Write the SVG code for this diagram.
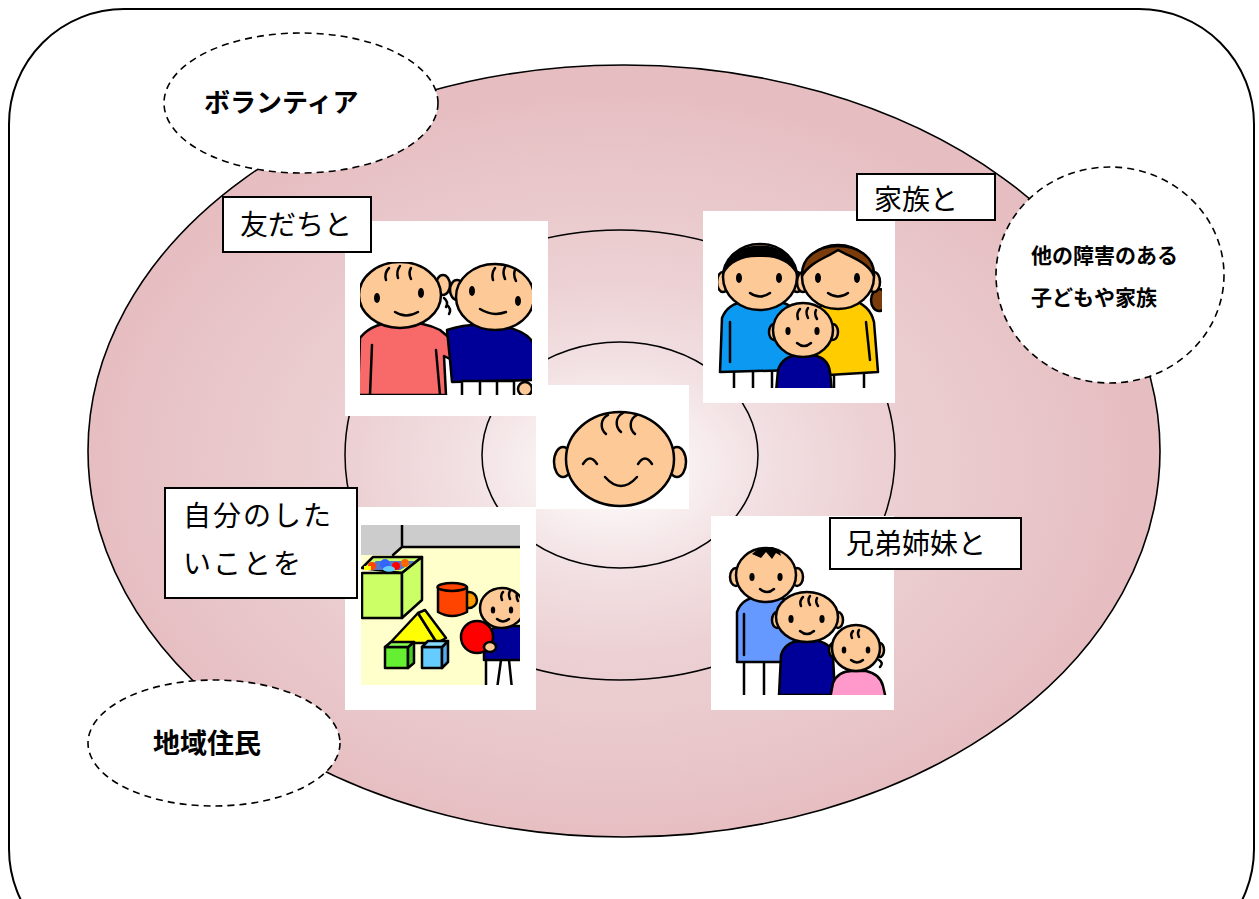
<svg xmlns="http://www.w3.org/2000/svg" width="1259" height="899" viewBox="0 0 1259 899">
  <defs>
    <radialGradient id="glow" cx="0.49" cy="0.52" r="0.5">
      <stop offset="0" stop-color="#ffffff"/>
      <stop offset="0.1" stop-color="#fbf5f5"/>
      <stop offset="0.28" stop-color="#f2e0e2"/>
      <stop offset="0.5" stop-color="#ecd0d3"/>
      <stop offset="0.8" stop-color="#e8c5c8"/>
      <stop offset="1" stop-color="#e6bdc1"/>
    </radialGradient>
    <clipPath id="clipFriends"><rect x="360" y="262" width="172" height="133"/></clipPath>
    <clipPath id="clipFamily"><rect x="718" y="238" width="164" height="150"/></clipPath>
    <clipPath id="clipToys"><rect x="361" y="525" width="159" height="160"/></clipPath>
    <clipPath id="clipSiblings"><rect x="725" y="545" width="162" height="150"/></clipPath>
    <style>
      .frame { fill: none; stroke: #000; stroke-width: 2; }
      .ring { fill: none; stroke: #000; stroke-width: 1.5; }
      .cloud { fill: #fff; stroke: #000; stroke-width: 1.6; stroke-dasharray: 7 5; }
      .photo { fill: #fff; }
      .label { fill: #fff; stroke: #000; stroke-width: 2; }
      .txt { font-family: "Noto Sans CJK JP", "Noto Sans", sans-serif; font-size: 28px; font-weight: 400; fill: #000; }
      .bold { font-family: "Noto Sans CJK JP", "Noto Sans", sans-serif; font-weight: 700; fill: #000; }
      .o { stroke: #000; stroke-width: 2.5; stroke-linejoin: round; stroke-linecap: round; }
      .ln { fill: none; stroke: #000; stroke-width: 2.5; stroke-linecap: round; }
      .skin { fill: #fdc996; }
      .navy { fill: #000099; }
      .wh { fill: #fff; }
    </style>
  </defs>

  <!-- outer rounded frame -->
  <rect class="frame" x="9" y="9" width="1245" height="955" rx="115" ry="115" fill="#fff"/>

  <!-- community ellipse with radial shading -->
  <ellipse id="community" cx="624" cy="451" rx="536" ry="386" fill="url(#glow)" stroke="#000" stroke-width="1.6"/>

  <!-- inner rings -->
  <g id="rings">
    <ellipse class="ring" cx="620" cy="455" rx="275" ry="225"/>
    <ellipse class="ring" cx="620" cy="455" rx="138" ry="113"/>
  </g>

  <!-- dashed outer circles -->
  <g id="volunteer">
    <ellipse class="cloud" cx="301" cy="103" rx="137" ry="70"/>
    <text class="bold" x="204" y="112" font-size="26">ボランティア</text>
  </g>
  <g id="other-families">
    <ellipse class="cloud" cx="1110" cy="275" rx="114" ry="108"/>
    <text class="bold" x="1031" y="263" font-size="21">他の障害のある</text>
    <text class="bold" x="1031" y="305" font-size="21">子どもや家族</text>
  </g>
  <g id="residents">
    <ellipse class="cloud" cx="214" cy="743" rx="126" ry="63"/>
    <text class="bold" x="153" y="753" font-size="27">地域住民</text>
  </g>

  <!-- friends -->
  <g id="friends">
    <rect class="photo" x="345" y="221" width="203" height="195"/>
    <g clip-path="url(#clipFriends)">
      <!-- girl -->
      <path d="M358 395 L360 338 Q372 322 400 322 Q425 322 440 330 L458 345 L452 360 L444 356 L446 395 Z" fill="#f86a6a" class="o"/>
      <path class="ln" d="M372 345 L370 395 M436 350 L440 395"/>
      <ellipse cx="443" cy="285" rx="7" ry="10" class="skin o"/>
      <ellipse cx="400" cy="295" rx="41" ry="33" class="skin o"/>
      <path class="ln" d="M444 298 q5 4 2 9 M447 305 q5 4 2 9" stroke-width="2"/>
      <path class="ln" d="M389 268 q-5 5 -3 12 M400 266 q-4 5 -2 12 M411 268 q-3 5 0 11"/>
      <ellipse cx="377" cy="298" rx="3" ry="5"/>
      <ellipse cx="421" cy="293" rx="3" ry="5"/>
      <path class="ln" d="M395 312 q11 7 23 0"/>
      <!-- boy -->
      <path d="M447 330 Q470 322 500 326 Q528 330 534 345 L534 380 L452 382 L450 360 Z" class="navy o"/>
      <rect x="462" y="381" width="52" height="16" class="wh o"/>
      <path class="ln" d="M480 382 L480 397 M497 382 L497 397"/>
      <ellipse cx="525" cy="389" rx="7" ry="7" class="skin o"/>
      <ellipse cx="457" cy="290" rx="7" ry="10" class="skin o"/>
      <ellipse cx="495" cy="297" rx="39" ry="33" class="skin o"/>
      <path class="ln" d="M495 268 q-4 5 -2 12 M505 267 q-3 5 0 12 M515 270 q-2 5 1 11"/>
      <ellipse cx="472" cy="291" rx="3" ry="5"/>
      <ellipse cx="518" cy="301" rx="3" ry="5"/>
      <path class="ln" d="M480 309 q13 8 26 3"/>
    </g>
  </g>

  <!-- family -->
  <g id="family">
    <rect class="photo" x="703" y="211" width="192" height="192"/>
    <g clip-path="url(#clipFamily)">
      <!-- father -->
      <rect x="734" y="366" width="38" height="26" class="wh o"/>
      <path class="ln" d="M753 368 L753 392"/>
      <path d="M720 372 L722 318 Q728 303 745 302 L780 302 Q796 305 797 322 L797 370 Z" fill="#0c99f2" class="o"/>
      <path class="ln" d="M730 322 L730 362"/>
      <ellipse cx="723" cy="282" rx="6" ry="10" class="skin o"/>
      <ellipse cx="797" cy="282" rx="6" ry="10" class="skin o"/>
      <ellipse cx="760" cy="277" rx="37" ry="33" class="skin o"/>
      <path d="M724 274 C722 236 798 236 796 274 C790 262 776 256 760 257 C744 256 730 262 724 274 Z" fill="#000"/>
      <ellipse cx="739" cy="278" rx="3" ry="5"/>
      <ellipse cx="779" cy="278" rx="3" ry="5"/>
      <path class="ln" d="M750 293 q10 7 20 0"/>
      <!-- mother -->
      <rect x="834" y="370" width="30" height="22" class="wh o"/>
      <ellipse cx="879" cy="300" rx="8" ry="11" fill="#7a3c0a" class="o"/>
      <path d="M812 376 L812 320 Q818 302 836 300 L852 300 Q870 305 874 322 L878 372 Z" fill="#ffcc00" class="o"/>
      <path class="ln" d="M866 322 L870 360"/>
      <ellipse cx="803" cy="282" rx="6" ry="10" class="skin o"/>
      <ellipse cx="874" cy="282" rx="6" ry="10" class="skin o"/>
      <ellipse cx="838" cy="277" rx="36" ry="32" class="skin o"/>
      <path d="M802 276 C800 236 876 236 874 276 C868 262 852 258 838 250 C826 258 810 262 802 276 Z" fill="#7a3c0a" class="o" stroke-width="2"/>
      <ellipse cx="818" cy="278" rx="3" ry="5"/>
      <ellipse cx="857" cy="278" rx="3" ry="5"/>
      <path class="ln" d="M828 293 q10 7 20 0"/>
      <!-- child -->
      <path d="M776 392 L778 370 Q783 355 800 355 L812 355 Q828 357 830 372 L832 392 Z" class="navy o"/>
      <ellipse cx="774" cy="332" rx="5" ry="8" class="skin o"/>
      <ellipse cx="833" cy="332" rx="5" ry="8" class="skin o"/>
      <ellipse cx="803" cy="330" rx="30" ry="27" class="skin o"/>
      <path class="ln" d="M800 309 q-4 4 -2 10 M808 308 q-3 4 0 10 M816 310 q-2 4 1 9" stroke-width="2"/>
      <ellipse cx="788" cy="331" rx="2.6" ry="4"/>
      <ellipse cx="817" cy="331" rx="2.6" ry="4"/>
      <path class="ln" d="M797 343 q7 6 14 0"/>
    </g>
  </g>

  <!-- centre child -->
  <g id="me">
    <rect class="photo" x="536" y="385" width="153" height="124"/>
    <ellipse cx="563" cy="462" rx="9" ry="15" class="skin o"/>
    <ellipse cx="677" cy="462" rx="9" ry="15" class="skin o"/>
    <ellipse cx="620" cy="459" rx="54" ry="47" class="skin o"/>
    <path class="ln" d="M608 415 c-8 4 -8 14 -2 19 M623 413 c-8 4 -8 14 -2 19 M637 415 c-8 4 -8 14 -2 19"/>
    <path class="ln" d="M583 464 q7 -11 14 0 M638 464 q7 -11 14 0"/>
    <path class="ln" d="M605 477 q16 18 32 0"/>
  </g>

  <!-- play -->
  <g id="play">
    <rect class="photo" x="345" y="507" width="191" height="203"/>
    <g clip-path="url(#clipToys)">
      <rect x="361" y="525" width="159" height="160" fill="#ffffcc"/>
      <path d="M361 525 L520 525 L520 547 L402 547 L393 555 L361 555 Z" fill="#cccccc"/>
      <path class="ln" d="M402 525 L402 547 L393 555 M402 547 L520 547"/>
      <!-- toy box -->
      <path d="M362 568 L373 557 L422 557 L402 573 Z" fill="#ccff66" class="o"/>
      <path d="M366 570 L376 561 L416 561 L400 570 Z" fill="#5577cc"/>
      <circle cx="372" cy="566" r="4" fill="#ff4400"/>
      <circle cx="385" cy="564" r="5" fill="#3366ff"/>
      <circle cx="396" cy="566" r="4" fill="#ff0000"/>
      <circle cx="405" cy="563" r="4" fill="#ff6600"/>
      <ellipse cx="389" cy="569" rx="6" ry="3" fill="#66ccff"/>
      <rect x="364" y="566" width="7" height="4" fill="#ffff00"/>
      <path d="M362 573 L402 573 L402 618 L362 618 Z" fill="#ccff66" class="o"/>
      <path d="M402 573 L422 557 L422 600 L402 618 Z" fill="#ccff66" class="o"/>
      <!-- cup -->
      <circle cx="469" cy="600" r="8" fill="#ff9900" class="o"/>
      <path d="M438 587 L467 587 L467 612 Q452 620 438 612 Z" fill="#ff4400" class="o"/>
      <ellipse cx="452" cy="587" rx="14.5" ry="4" fill="#ff4400" class="o"/>
      <!-- blocks -->
      <path d="M390 643 L418 613 L437 643 Z" fill="#ffff00" class="o"/>
      <path d="M418 613 L425 610 L446 638 L437 643 Z" fill="#ffff00" class="o"/>
      <path d="M385 647 L408 647 L408 668 L385 668 Z" fill="#66ee33" class="o"/>
      <path d="M408 647 L414 642 L414 663 L408 668 Z" fill="#44cc22" class="o"/>
      <path d="M385 647 L391 642 L414 642 L408 647 Z" fill="#88ff55" class="o"/>
      <path d="M422 647 L442 647 L442 668 L422 668 Z" fill="#66ccff" class="o"/>
      <path d="M442 647 L448 641 L448 662 L442 668 Z" fill="#55aaee" class="o"/>
      <path d="M422 647 L428 641 L448 641 L442 647 Z" fill="#88ddff" class="o"/>
      <!-- child with ball -->
      <rect x="486" y="657" width="36" height="32" class="wh o"/>
      <path class="ln" d="M501 660 L497 689 M509 660 L512 689"/>
      <path d="M484 660 L484 640 Q488 626 505 626 L522 626 L522 660 Z" class="navy o"/>
      <ellipse cx="502" cy="608" rx="22" ry="20" class="skin o"/>
      <path class="ln" d="M503 592 q-3 3 -1 8 M510 591 q-2 3 0 8 M517 594 q-1 3 1 7" stroke-width="2"/>
      <ellipse cx="493" cy="610" rx="2.2" ry="3.5"/>
      <ellipse cx="511" cy="610" rx="2.2" ry="3.5"/>
      <path class="ln" d="M497 619 q6 5 12 0" stroke-width="2"/>
      <circle cx="477" cy="637" r="16" fill="#ff0000" class="o"/>
      <ellipse cx="490" cy="647" rx="6" ry="5" class="skin o"/>
    </g>
  </g>

  <!-- siblings -->
  <g id="siblings">
    <rect class="photo" x="711" y="516" width="183" height="194"/>
    <g clip-path="url(#clipSiblings)">
      <!-- big brother -->
      <rect x="744" y="655" width="40" height="45" class="wh o"/>
      <path class="ln" d="M764 660 L764 700"/>
      <path d="M737 662 L737 612 Q742 598 758 597 L778 597 Q792 600 794 612 L794 662 Z" fill="#6699ff" class="o"/>
      <path class="ln" d="M744 614 L744 655"/>
      <ellipse cx="736" cy="577" rx="6" ry="9" class="skin o"/>
      <ellipse cx="797" cy="577" rx="6" ry="9" class="skin o"/>
      <ellipse cx="766" cy="575" rx="30" ry="27" class="skin o"/>
      <path d="M752 554 Q760 546 772 547 Q780 549 781 556 L776 553 L772 559 L766 552 L761 558 Z" fill="#000"/>
      <ellipse cx="752" cy="577" rx="2.6" ry="4"/>
      <ellipse cx="780" cy="577" rx="2.6" ry="4"/>
      <path class="ln" d="M760 589 q7 6 14 0"/>
      <!-- middle -->
      <path d="M779 695 L781 655 Q785 642 800 641 L818 641 Q832 644 833 656 L835 695 Z" class="navy o"/>
      <ellipse cx="777" cy="620" rx="5" ry="8" class="skin o"/>
      <ellipse cx="838" cy="620" rx="5" ry="8" class="skin o"/>
      <ellipse cx="807" cy="617" rx="31" ry="25" class="skin o"/>
      <path class="ln" d="M803 597 q-4 4 -2 9 M810 596 q-3 4 0 9 M817 598 q-2 4 1 8" stroke-width="2"/>
      <ellipse cx="791" cy="619" rx="2.6" ry="4"/>
      <ellipse cx="822" cy="619" rx="2.6" ry="4"/>
      <path class="ln" d="M800 631 q7 6 14 0"/>
      <!-- little sister -->
      <path d="M830 699 L833 683 Q838 671 852 671 L866 671 Q880 674 883 686 L886 699 Z" fill="#ff99cc" class="o"/>
      <ellipse cx="833" cy="650" rx="4" ry="7" class="skin o"/>
      <ellipse cx="880" cy="650" rx="4" ry="7" class="skin o"/>
      <ellipse cx="856" cy="648" rx="24" ry="23" class="skin o"/>
      <path class="ln" d="M853 631 q-3 3 -1 7 M859 630 q-2 3 0 7" stroke-width="2"/>
      <path class="ln" d="M879 660 q5 3 1 7" stroke-width="2"/>
      <ellipse cx="844" cy="650" rx="2.3" ry="3.6"/>
      <ellipse cx="868" cy="650" rx="2.3" ry="3.6"/>
      <path class="ln" d="M851 660 q6 5 12 0" stroke-width="2"/>
    </g>
  </g>

  <!-- text labels -->
  <g id="label-friends">
    <rect class="label" x="223" y="197" width="148" height="55"/>
    <text class="txt" x="240" y="235">友だちと</text>
  </g>
  <g id="label-family">
    <rect class="label" x="857" y="174" width="138" height="46"/>
    <text class="txt" x="874" y="210">家族と</text>
  </g>
  <g id="label-play">
    <rect class="label" x="165" y="488" width="192" height="110"/>
    <text class="txt" x="183" y="526" letter-spacing="2">自分のした</text>
    <text class="txt" x="183" y="574" letter-spacing="2">いことを</text>
  </g>
  <g id="label-siblings">
    <rect class="label" x="830" y="518" width="191" height="51"/>
    <text class="txt" x="846" y="554">兄弟姉妹と</text>
  </g>
</svg>
